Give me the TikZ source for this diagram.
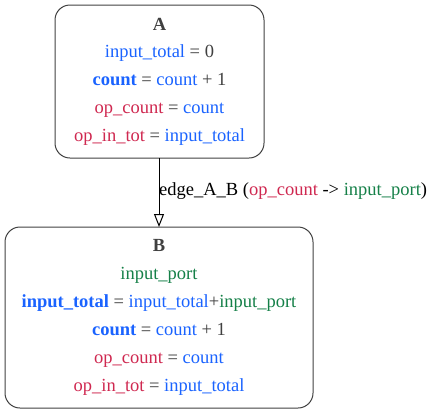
\documentclass[tikz,border=0pt]{standalone}
\usepackage{fontspec}
\setmainfont{Liberation Serif}
\usetikzlibrary{arrows.meta}
\definecolor{vblue}{HTML}{1A63FF}
\definecolor{vred}{HTML}{CF2850}
\definecolor{vgreen}{HTML}{158048}
\definecolor{vgray}{HTML}{404040}
\newcommand{\bl}[1]{\textcolor{vblue}{#1}}
\newcommand{\rd}[1]{\textcolor{vred}{#1}}
\newcommand{\gn}[1]{\textcolor{vgreen}{#1}}
\begin{document}
\begin{tikzpicture}[x=1pt,y=-1pt,
  box/.style={draw=vgray,line width=1pt,rounded corners=15pt},
  txt/.style={anchor=base,inner sep=0pt,text=vgray,font=\fontsize{18.5}{20}\selectfont},
  lbl/.style={anchor=base west,inner sep=0pt,text=black,font=\fontsize{18.5}{20}\selectfont}]
\useasboundingbox (0,0) rectangle (433,413);
\draw[box] (55,5) rectangle (264,158);
\coordinate (Abot) at (159,158);
\node[txt] (at) at (159.5,30) {\textbf{A}};
\node[txt] (a1) at (159.5,57) {\bl{input\_total} = 0};
\node[txt] (a2) at (159.5,85) {\bl{\textbf{count}} = \bl{count} + 1};
\node[txt] (a3) at (159.5,113) {\rd{op\_count} = \bl{count}};
\node[txt] (a4) at (159.5,141) {\rd{op\_in\_tot} = \bl{input\_total}};
\draw[box] (5,227) rectangle (313,408);
\coordinate (Btop) at (159,227);
\node[txt] (bt) at (159,251) {\textbf{B}};
\node[txt] (b1) at (159,279) {\gn{input\_port}};
\node[txt] (b2) at (159,307) {\bl{\textbf{input\_total}} = \bl{input\_total}+\gn{input\_port}};
\node[txt] (b3) at (159,335) {\bl{\textbf{count}} = \bl{count} + 1};
\node[txt] (b4) at (159,363) {\rd{op\_count} = \bl{count}};
\node[txt] (b5) at (159,391) {\rd{op\_in\_tot} = \bl{input\_total}};
\draw[line width=1pt,-{Triangle[open,length=13pt,width=10pt,fill=white]}] (Abot) -- (Btop);
\node[lbl] (el) at (159,195) {edge\_A\_B (\rd{op\_count} -> \gn{input\_port})};
\end{tikzpicture}
\end{document}
